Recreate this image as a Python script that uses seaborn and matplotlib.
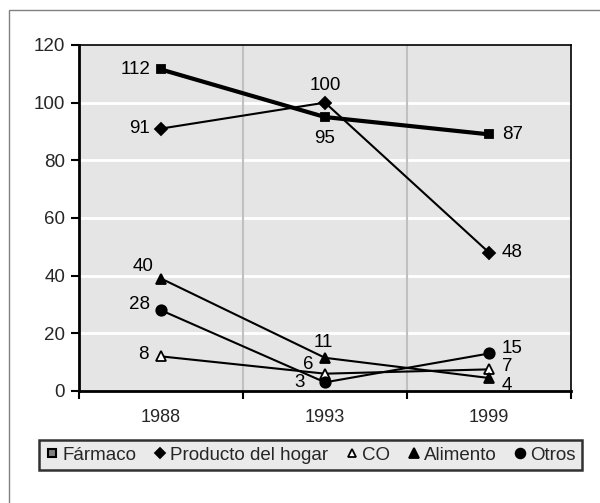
import numpy as np
import pandas as pd
import matplotlib.pyplot as plt
import seaborn as sns
from matplotlib.lines import Line2D
from matplotlib.patches import Rectangle

# Categories and series (plotted positions as drawn, and the printed labels)
years = ["1988", "1993", "1999"]
series = ["Fármaco", "Producto del hogar", "CO", "Alimento", "Otros"]

farmaco = [111.5, 95, 89]
producto = [91, 100, 48]
co = [12, 6, 7.5]
alimento = [39, 11.5, 4.5]
otros = [28, 3, 13]

farmaco_lbl = [112, 95, 87]
producto_lbl = [91, 100, 48]
co_lbl = [8, 6, 7]
alimento_lbl = [40, 11, 4]
otros_lbl = [28, 3, 15]

values = [farmaco, producto, co, alimento, otros]
labels = [farmaco_lbl, producto_lbl, co_lbl, alimento_lbl, otros_lbl]

rows = []
for name, vals in zip(series, values):
    for i, v in enumerate(vals):
        rows.append({"serie": name, "x": i, "valor": v})
df = pd.DataFrame(rows)

sns.set_theme(style="white")
plt.rcParams['font.family'] = ['Liberation Sans', 'DejaVu Sans']

fig = plt.figure(figsize=(6.0, 5.03), dpi=100)
ax = fig.add_axes([0.1317, 0.2227, 0.82, 0.6879])
ax.set_facecolor("#e5e5e5")

# marker, fill colour, size, line width
styles = {
    "Fármaco": ("s", "black", 6, 3.0),
    "Producto del hogar": ("D", "black", 6, 1.5),
    "CO": ("^", "white", 6.5, 1.5),
    "Alimento": ("^", "black", 7, 1.5),
    "Otros": ("o", "black", 7.5, 1.5),
}

# gridlines
for yv in [20, 40, 60, 80, 100]:
    ax.axhline(yv, color="white", lw=2, zorder=0)
for xv in [0.5, 1.5]:
    ax.axvline(xv, color="#c0c0c0", lw=1.5, zorder=0)

for name in series:
    m, fc, ms, lw = styles[name]
    sns.lineplot(data=df[df.serie == name], x="x", y="valor", ax=ax,
                 color="black", lw=lw, marker=m, markersize=ms,
                 markerfacecolor=fc, markeredgecolor="black",
                 markeredgewidth=1.3, zorder=3, legend=False)

FS = 13.5

# label offsets (pixels) and alignment per point
offsets = {
    "Fármaco": [(-11, 0, "right", "center"), (0, -21, "center", "center"), (13, 0, "left", "center")],
    "Producto del hogar": [(-11, 0, "right", "center"), (0, 17, "center", "center"), (13, 0, "left", "center")],
    "CO": [(-12, 2, "right", "center"), (-17, 9, "center", "center"), (13, 3, "left", "center")],
    "Alimento": [(-8, 12, "right", "center"), (-2, 15, "center", "center"), (13, -7, "left", "center")],
    "Otros": [(-11, 6, "right", "center"), (-25, 0, "center", "center"), (13, 5, "left", "center")],
}
for name, vals, lbls in zip(series, values, labels):
    for i, (v, t) in enumerate(zip(vals, lbls)):
        dx, dy, ha, va = offsets[name][i]
        ax.annotate(str(t), (i, v), xytext=(dx, dy), textcoords="offset pixels",
                    ha=ha, va=va, fontsize=FS, color="black", zorder=5)

ax.set_xlim(-0.5, 2.5)
ax.set_ylim(0, 120)
ax.set_yticks([0, 20, 40, 60, 80, 100, 120])
ax.set_xticks([-0.5, 0.5, 1.5, 2.5])
ax.set_xticklabels([])
ax.set_xticks([0, 1, 2], minor=True)
ax.set_xticklabels(years, minor=True)
ax.tick_params(axis="x", which="major", direction="out", length=6, width=1.5, color="black", bottom=True)
ax.tick_params(axis="x", which="minor", length=0, pad=13, labelsize=FS - 0.5)
ax.tick_params(axis="y", direction="out", length=6, width=1.5, color="black", left=True, labelsize=FS, pad=4)
ax.set_xlabel("")
ax.set_ylabel("")
for side in ["left", "bottom"]:
    ax.spines[side].set_color("black")
    ax.spines[side].set_linewidth(2)
for side in ["top", "right"]:
    ax.spines[side].set_color("black")
    ax.spines[side].set_linewidth(1.2)

handles = []
for name in series:
    m, fc, ms, lw = styles[name]
    if name == "Fármaco":
        h = Line2D([], [], ls="none", marker="s", markersize=5.5, markerfacecolor="#808080",
                   markeredgecolor="black", markeredgewidth=1.5)
    else:
        h = Line2D([], [], ls="none", marker=m, markersize=ms - 0.5, markerfacecolor=fc,
                   markeredgecolor="black", markeredgewidth=1.3)
    handles.append(h)
leg = fig.legend(handles, series, loc="center", bbox_to_anchor=(0.518, 0.0954), ncol=5,
                 frameon=True, fancybox=False, fontsize=FS, handlelength=0.7,
                 handletextpad=0.2, columnspacing=0.9, borderpad=0.35)
leg.get_frame().set_facecolor("#e5e5e5")
leg.get_frame().set_edgecolor("black")
leg.get_frame().set_linewidth(1.8)

# outer chart border
fig.patches.append(Rectangle((0.015, -0.05), 1.1, 1.03, transform=fig.transFigure,
                             fill=False, edgecolor="#808080", lw=1.0))

fig.savefig("out.png", dpi=100)
